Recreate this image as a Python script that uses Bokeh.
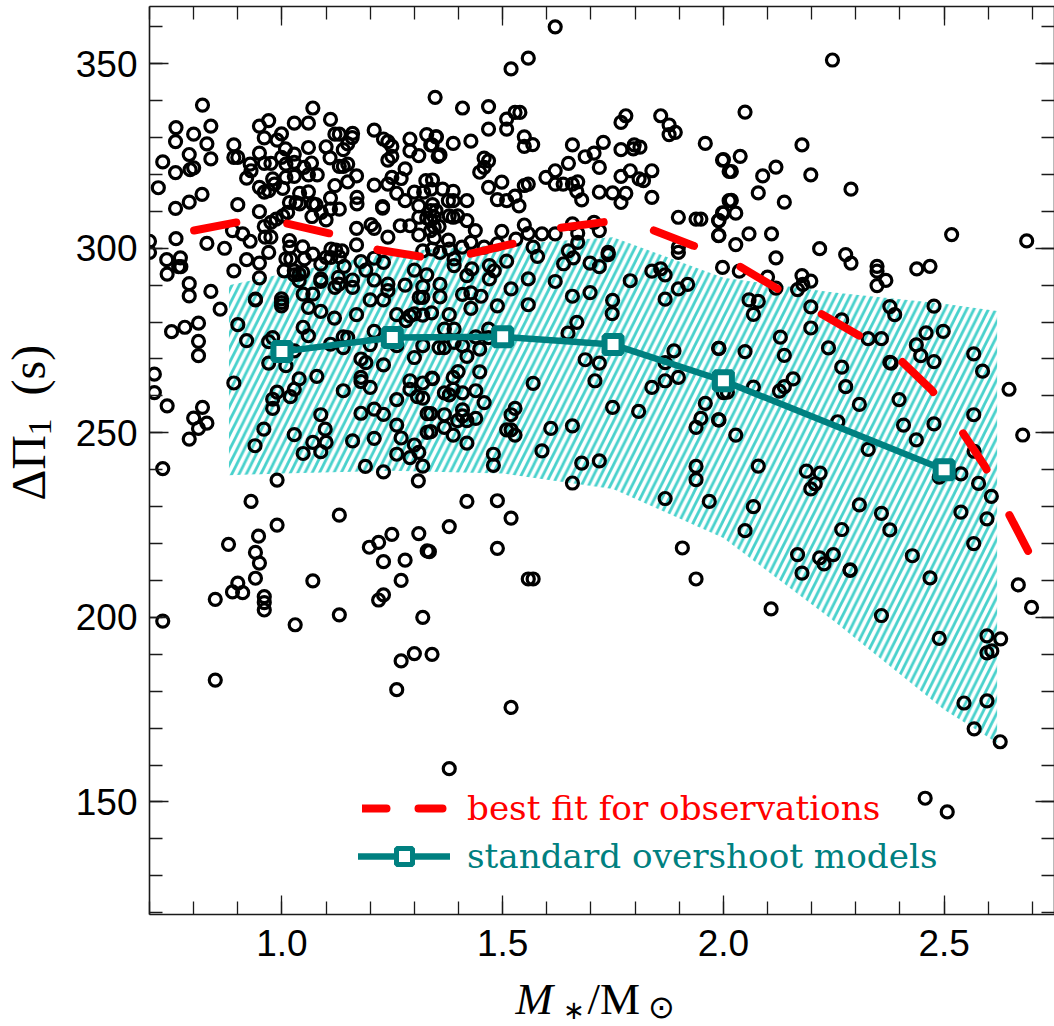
import math
from bokeh.plotting import figure
from bokeh.embed import file_html
from bokeh.resources import INLINE
from bokeh.models import (FixedTicker, Label, Legend, LegendItem, LinearAxis, Range1d,
                          CustomJSTickFormatter, NumeralTickFormatter)

star_points = [
(.82,338.8),(.839,333.1),(.76,332.7),(.80,330.9),(.759,328.9),(.83,328.3),(.79,325.4),(.839,324.2),(.73,323.4),(.759,320.5),
(.792,321.3),(.80,321.8),(.72,316.4),(.819,314.6),(.79,312.5),(.759,310.8),(.90,311.8),(.891,328),(.891,324.6),(.90,324.6),
(.949,309.9),(.76,302.6),(.83,301.3),(.87,300),(.888,304.8),(.911,303.9),(.928,301.9),(.70,301.9),(.70,298.9),(.739,296.9),
(.77,297.4),(.766,295),(.771,295),(.74,293),(.79,290.4),(.79,287.1),(.839,288.3),(.891,293.9),(.92,296.9),(.949,296),
(.97,298.9),(.949,292),(.94,286.2),(.949,333.1),(.97,334.6),(.96,329.9),(.999,331),(.989,329.3),(1.028,333.9),(1.06,333.9),
(1.07,338),(1.11,334.9),(1.12,330.9),(1.13,330.9),(1.16,331.1),(1.159,330),(1.149,328.3),(1.139,326.7),(1.008,326.9),(1.028,325.5),
(1.06,327.3),(1.10,327.5),(1.109,324.5),(.949,325.8),(.928,322.8),(.93,321),(.92,319),(.96,323),(.975,323),(.999,324.6),
(1.009,322.8),(1.028,323.3),(1.05,321.9),(1.067,323.1),(1.06,319.9),(1.08,319.9),(1.13,322.2),(1.139,322.2),(1.149,322.8),(1.169,319.6),
(1.009,319.2),(1.028,319.5),(.979,318.8),(.983,317.4),(.949,316.5),(.96,315.2),(.97,315.6),(1.002,316.2),(1.12,317),(1.149,318),
(1.04,314.9),(1.06,315.3),(1.11,313.6),(1.017,312.4),(1.032,312.4),(1.04,312),(1.07,312),(1.077,311.8),(1.11,310.6),(1.13,310.6),
(1.17,313.8),(1.17,312),(1.013,309.7),(1.002,308.8),(.987,307.9),(.975,307),(1.068,308.6),(1.10,307.7),(1.089,309.7),(1.169,305.4),
(1.169,300.9),(1.202,306.4),(1.209,305.4),(1.24,303),(1.268,306.1),(1.29,306.1),(1.31,303.6),(1.319,299.3),(1.341,299.8),(1.209,297.3),
(1.23,296.2),(1.179,296.4),(1.19,294.1),(1.141,295.1),(1.088,295.7),(1.088,291.7),(1.128,292.1),(1.12,289.4),(1.16,291.4),(1.16,289.4),
(1.209,291.4),(1.24,290.3),(1.24,288.5),(1.279,290),(1.319,289.6),(1.30,294.1),(1.328,292.8),(1.228,311.3),(1.228,310.9),(1.209,317.1),
(1.24,317.4),(1.249,319.2),(1.27,318.9),(1.26,314.9),(1.279,312.9),(1.24,323.9),(1.249,324.9),(1.279,321.5),(1.31,325.1),(1.29,326.4),
(1.29,329.6),(1.209,332),(1.23,329.6),(1.24,328.9),(1.249,327.6),(1.328,330.8),(1.349,330.2),(1.34,328),(1.354,324.9),(1.347,340.9),
(1.30,315.2),(1.321,315.2),(1.326,318.3),(1.341,318.5),(1.338,316),(1.31,311.5),(1.341,311.8),(1.31,308.4),(1.328,308.2),(1.345,308.4),
(1.345,302.8),(1.017,302.1),(1.018,300.3),(1.009,297.1),(1.02,297.1),(1.005,293.9),(1.028,293.9),(1.028,292.8),(1.039,293),(1.047,293.5),
(1.051,297.1),(1.07,298.4),(1.047,300.4),(1.111,299.8),(1.122,299.5),(1.136,299.3),(1.1,297.5),(1.111,297.5),(1.13,297.7),(.96,305.9),
(.975,303),(.962,303),(1.039,291.2),(.999,286.3),
(1.619,360),(1.558,351.5),(1.519,348.6),(1.409,338),(1.468,338.4),(1.509,335),(1.528,336.8),(1.539,336.8),(1.468,332.3),(1.509,332.3),
(1.549,330.2),(1.549,327.6),(1.568,328.1),(1.35,330.2),(1.337,328),(1.388,328.4),(1.428,329),(1.358,325.3),(1.458,324.4),(1.468,323.7),
(1.458,321.9),(1.448,320.6),(1.658,328),(1.728,328.7),(1.707,325.8),(1.687,324.8),(1.768,326.7),(1.798,328),(1.811,327.4),(1.796,326.9),
(1.649,323),(1.719,321.9),(1.598,319.2),(1.619,321),(1.619,317.4),(1.637,317.4),(1.658,317.4),(1.67,318),(1.668,315.4),(1.679,313.1),
(1.719,315.2),(1.749,315),(1.779,314.9),(1.768,312.4),(1.768,319.5),(1.789,321),(1.809,318.8),(1.819,318.3),(1.838,321),(1.838,313.8),
(1.768,334.1),(1.779,335.9),(1.858,335.9),(1.877,333.4),(1.877,330.8),(1.891,331.4),(1.959,328.4),(1.998,323.9),(2.013,320.8),(1.498,317.9),
(1.468,316.5),(1.488,313.2),(1.509,312.9),(1.528,314.1),(1.537,311.5),(1.549,317),(1.558,317.4),(1.364,316),(1.388,315.4),(1.377,312.9),
(1.388,312.9),(1.419,312.9),(1.337,310.2),(1.349,310.2),(1.379,308.8),(1.398,308.8),(1.388,308.4),(1.419,307.5),(1.438,304.8),(1.337,307.5),
(1.356,305.9),(1.345,305.7),(1.337,304.8),(1.377,302.2),(1.498,304.6),(1.549,306.3),(1.558,304),(1.589,303.9),(1.619,303.9),(1.53,302.5),
(1.658,306.6),(1.707,307),(1.719,304.8),(1.67,304.1),(1.67,301.6),(1.428,301.6),(1.458,300.3),(1.488,301.2),(1.408,300.3),(1.379,299.8),
(1.358,298.9),(1.39,297.1),(1.39,295.3),(1.43,294.4),(1.47,295.3),(1.481,293.9),(1.47,291.7),(1.419,292.6),(1.509,296.5),(1.569,300.3),
(1.579,297.8),(1.649,299.3),(1.66,297.4),(1.638,295.8),(1.698,296),(1.719,295),(1.739,298.9),(1.739,298.3),(1.558,291.7),(1.519,289),
(1.619,291),(1.658,287),(1.698,288),(1.789,291.2),(1.358,290.2),(1.358,286.8),(1.409,287.5),(1.428,287.9),(1.451,287),(1.868,286.2),
(1.898,289),(1.919,290.2),(1.838,293.8),(1.858,294.4),(1.868,292.8),(1.898,300.3),(1.898,298.9),(1.898,308.4),(1.938,307.9),(1.949,307.9),
(1.989,307.5),(1.998,309.6),(1.989,303.4),(2.013,312.9),(1.998,294.8),(1.749,285.9),
(2.247,351),(2.049,336.9),(2.178,328),(2.0,324),(2.038,324.9),(2.018,320.8),(2.089,319.6),(2.119,322),(2.198,319.9),(2.289,316),
(2.079,315),(2.138,312.5),(2.018,313),(2.028,309.5),(2.0,309.5),(1.99,307.5),(1.99,303.5),(2.058,303.9),(2.109,303.9),(2.028,301),
(2.517,303.7),(2.687,302),(2.119,297.4),(2.218,299.9),(2.036,293.8),(2.277,298.3),(2.289,296),(2.348,295.1),(2.348,293.8),(2.368,291.3),
(2.348,289.9),(2.438,294.4),(2.468,295.1),(2.100,292.2),(2.119,289.2),(2.168,288.8),(2.178,292.6),(2.18,290.2),(2.198,291.1),(2.058,286),
(2.079,285.6),(2.068,282.1),(2.198,284.1),(2.198,278.4),(2.268,280.6),(2.129,275.9),(2.238,273),(2.328,275.5),(2.358,275.5),(2.377,284.2),
(2.388,282),(2.477,284.3),(2.498,277.5),(2.459,277.1),(2.437,273.8),(2.447,270.9),(2.477,269.3),(2.567,271.4),(1.99,272.9),(2.049,272),
(2.138,271),(2.377,269.1),(2.38,268.9),(2.268,267.8),(2.587,266.7),(2.647,261.8),(2.158,264.6),(2.138,262.5),(2.127,261.3),(2.068,262.4),
(2.009,261),(2.277,262.5),(2.308,257.7),(2.398,259),(2.567,254.9),(1.99,253.5),(2.028,249.4),(2.259,253),(2.408,252.1),(2.477,252.4),
(2.437,248.1),(2.678,249.4),(2.328,245.5),(2.568,245),(2.079,241),(2.188,239.6),(2.219,239.1),(2.208,236.2),(2.198,234.8),(2.489,238),
(2.538,238.9),(2.578,236.3),(2.607,232.8),(2.068,230),(2.308,230.5),(2.358,228.2),(2.538,228.5),(2.597,226.7),(2.567,220),(2.049,223.5),
(2.268,223.8),(2.377,223.7),(2.168,217),(2.218,216.1),(2.249,217),(2.228,214.5),(2.178,212),(2.287,212.9),(2.287,212.7),(2.428,216.7),
(2.468,210.7),(2.668,208.8),(2.698,202.7),(2.108,202.3),(2.358,200.5),(2.489,194.3),(2.597,195),(2.628,194.2),(2.545,176.8),(2.597,177.4),
(2.568,169.8),(2.627,166.3),(2.597,190.4),(2.608,190.9),(2.457,151),(2.507,147.3),
(1.339,282.5),(1.748,282.3),(1.428,283.7),(1.488,284.4),(1.558,284.7),(1.379,282),(1.368,278.1),(1.39,278.1),(1.468,278.1),(1.439,276),
(1.468,275.8),(1.39,274.5),(1.368,273.1),(1.409,273.6),(1.448,272.7),(1.419,270.7),(1.668,279.9),(1.648,277),(1.888,272.2),(1.989,272.9),
(1.868,269),(1.868,264.1),(1.898,265),(1.838,262.3),(1.687,269.8),(1.719,268.9),(1.709,264.1),(2.0,260.9),(1.959,258),(1.949,253.9),
(1.938,251.5),(1.989,253.5),(1.399,266.6),(1.388,265),(1.448,266.5),(1.341,264.7),(1.368,260.8),(1.379,260.3),(1.388,261.8),(1.409,260.8),
(1.439,261.4),(1.458,258.2),(1.569,263.4),(1.337,255.2),(1.368,254.9),(1.409,256.2),(1.409,254.6),(1.398,253.3),(1.419,253.3),(1.439,253.9),
(1.368,251.5),(1.388,249.4),(1.337,250.3),(1.419,247.2),(1.528,256.6),(1.519,254.9),(1.509,250.8),(1.519,250.8),(1.528,249.4),(1.609,251.2),
(1.658,251.9),(1.749,256.9),(1.808,255.8),(1.479,244.2),(1.479,241.2),(1.589,245.1),(1.679,241.8),(1.719,242.4),(1.658,236.4),(1.938,240.9),
(1.938,237.3),(1.868,232.2),(1.968,231.4),(1.419,231.4),(1.488,231.6),(1.519,226.9),(1.379,224.6),(1.488,218.7),(1.334,217.8),(1.907,218.8),
(1.558,210.4),(1.569,210.4),(1.938,210.4),
(.86,283.5),(.94,286),(.999,285.3),(.999,284.4),(1.048,287.6),(1.07,287.6),(1.06,284),(1.088,282.9),(1.119,281.1),(1.169,282),
(1.2,286),(1.23,286),(1.26,282),(1.281,280.4),(1.29,281.7),(1.3,282.2),(1.319,281.9),(1.129,290.3),(1.088,291),(1.319,286.7),
(1.311,286.7),(.811,279.7),(.78,278.6),(.75,277.4),(.811,274.8),(.811,270.9),(.9,279.3),(.92,275),(.891,263.5),(.97,274.7),
(.979,275.8),(.97,268.9),(1.009,268.2),(1.028,272.2),(1.048,278.6),(1.06,276.3),(1.11,274),(1.139,276),(1.149,275.8),(1.139,273.1),
(1.2,273.9),(1.209,277.5),(1.26,273.6),(1.3,270.4),(1.319,273.6),(1.356,273.1),(1.179,270),(1.19,269),(1.23,268.4),(1.039,264.6),
(1.079,265.3),(1.179,265),(1.179,263.9),(1.2,262.3),(1.028,261.8),(1.019,259.8),(.989,261),(.979,259.1),(.979,256.6),(1.139,261.4),
(1.29,264.1),(1.29,261.8),(1.319,263.5),(1.34,264.8),(1.307,259.8),(1.319,259.4),(1.26,259),(1.179,255.3),(1.209,256.4),(1.23,255),
(1.329,255.2),(1.26,252.1),(1.27,248.6),(1.329,250.1),(1.088,254.9),(1.098,251),(1.028,249.5),(.959,251),(.939,246.5),(1.07,247.4),
(1.1,247.4),(1.048,244.4),(1.088,244.9),(1.16,247.8),(1.209,248.5),(1.3,246.7),(1.31,244.7),(1.26,244.2),(1.29,243.3),(1.319,241),
(1.189,240.9),(1.23,239.4),(1.309,237),(.989,237.2),(.82,256.9),(.8,254),(.83,252.6),(.811,251.2),(.79,248.3),(.73,240.3),
(.74,257.3),(.711,265.9),(.711,260.9),(.93,231.4),(1.13,227.7),(.989,225),(.947,222),(.879,219.8),(.94,217.6),(.949,214.7),
(1.198,219),(1.219,220.3),(1.249,222.5),(1.31,222.7),(1.329,218),(1.23,215.1),(1.279,215.5),(.9,209.3),(.888,206.9),(.911,206.7),
(.94,210.6),(.849,204.9),(.96,205.6),(.96,204),(.96,202),(1.03,198),(1.13,200.7),(.73,199),(1.07,209.9),(1.27,210),
(1.23,206.1),(1.219,204.7),(1.319,200),(1.3,190.2),(1.34,190),(1.27,188.2),(1.26,180.4),(1.519,175.6),(1.379,159),(.849,183),
]
star_mass = [s[0] for s in star_points]
star_period = [s[1] for s in star_points]

fit_mass = [.801,.901,1.012,1.109,1.217,1.316,1.427,1.526,1.630,1.730,1.839,1.932,2.034,2.120,2.215,2.305,2.400,2.473,2.539,2.593,2.644,2.690]
fit_period = [304.8,307.1,306.7,304,299.6,297.7,298.5,301.3,305.5,307.1,305,300.7,295.3,289.2,282.7,276.5,269.8,261.4,250.6,240.8,228.6,218]

model_mass = [1.0,1.25,1.5,1.75,2.0,2.5]
model_period = [272,275.8,276,273.9,264.1,240]

band_mass = [.88,1.0,1.25,1.5,1.75,2.0,2.25,2.5,2.62]
band_upper = [290,293,299,301,303,292,288,285,283]
band_lower = [238.5,239,239.7,239,234.8,221.5,199,175,166]

major_x = [1.0,1.5,2.0,2.5]
minor_x = [.7,.8,.9,1.0,1.1,1.2,1.3,1.4,1.5,1.6,1.7,1.8,1.9,2.0,2.1,2.2,2.3,2.4,2.5,2.6,2.7]
major_y = [150,200,250,300,350]
minor_y = [120,130,140,150,160,170,180,190,200,210,220,230,240,250,260,270,280,290,300,310,320,330,340,350,360]

SANS = "Liberation Sans"
SERIF = "Liberation Serif"
LEGEND_FONT = "DejaVu Serif"
INK = "#1a1a1a"
TEAL = "#008080"
RED = "#ff0000"
FRAME_LEFT, FRAME_BOTTOM, FRAME_W, FRAME_H = 149, 914, 905, 908
X0, X1, Y0, Y1 = 0.7, 2.75, 119.5, 365.5

p = figure(width=1054, height=1026, frame_width=FRAME_W, frame_height=FRAME_H,
           output_backend="svg", toolbar_location=None,
           x_range=Range1d(X0, X1), y_range=Range1d(Y0, Y1),
           min_border_left=FRAME_LEFT, min_border_right=0, min_border_top=6, min_border_bottom=112,
           styles={"position": "absolute", "left": "0px", "top": "0px"})
p.grid.visible = False
p.outline_line_color = None
p.background_fill_color = "white"

xt = FixedTicker(ticks=major_x, minor_ticks=minor_x)
yt = FixedTicker(ticks=major_y, minor_ticks=minor_y)
blank = CustomJSTickFormatter(code="return ''")
p.add_layout(LinearAxis(ticker=xt, formatter=blank), "above")
p.add_layout(LinearAxis(ticker=yt, formatter=blank), "right")

for ax in p.xaxis + p.yaxis:
    ax.axis_line_color = INK
    ax.axis_line_width = 1.6
    ax.major_tick_line_color = INK
    ax.minor_tick_line_color = INK
    ax.major_tick_line_width = 1.3
    ax.minor_tick_line_width = 1.3
    ax.major_tick_in = 19
    ax.major_tick_out = 0
    ax.minor_tick_in = 13
    ax.minor_tick_out = 0
    ax.major_label_text_font = SANS
    ax.major_label_text_font_size = "37px"
    ax.major_label_text_color = "black"
    ax.major_label_standoff = 12
p.below[0].ticker = xt
p.below[0].formatter = NumeralTickFormatter(format="0.0")
p.below[0].major_label_standoff = 15
p.left[0].ticker = yt
p.above[0].major_label_standoff = 0
p.right[0].major_label_standoff = 0
p.above[0].major_label_text_font_size = "0px"
p.right[0].major_label_text_font_size = "0px"

p.varea(band_mass, band_lower, band_upper, fill_alpha=0,
        hatch_pattern="right_diagonal_line", hatch_color="#48d1cc",
        hatch_weight=2.8, hatch_scale=14.5)

p.scatter(star_mass, star_period, marker="circle", size=12, fill_color=None,
          line_color="black", line_width=3.2)

p.line(fit_mass, fit_period, line_color=RED, line_width=8, line_dash="43 51",
       line_cap="round", line_join="round")

p.line(model_mass, model_period, line_color=TEAL, line_width=6.5)
p.scatter(model_mass, model_period, marker="square", size=17, fill_color="white",
          line_color=TEAL, line_width=6)

nan = float("nan")
key_red = p.line([nan, nan], [nan, nan], line_color=RED, line_width=8, line_dash="24 32", line_cap="round")
key_teal = p.line([nan, nan], [nan, nan], line_color=TEAL, line_width=6.5, line_cap="round")
key_mark = p.scatter([nan], [nan], marker="square", size=16, fill_color="white", line_color=TEAL, line_width=5)

def make_legend(label, renderers, color, loc, gw, gh, standoff):
    return Legend(items=[LegendItem(label=label, renderers=renderers, index=0)], location=loc, orientation="vertical",
                  background_fill_alpha=0, border_line_color=None, margin=0, padding=0,
                  glyph_width=gw, glyph_height=gh, label_standoff=standoff, label_height=gh,
                  label_text_font=LEGEND_FONT, label_text_font_size="34.2px", label_text_color=color,
                  label_text_baseline="middle")

p.add_layout(make_legend("best fit for observations", [key_red], RED, (213, 86), 86, 40, 19), "center")
p.add_layout(make_legend("standard overshoot models", [key_teal, key_mark], TEAL, (209, 38), 92, 40, 17), "center")

def piece(text, px, py, size, angle=0, style="normal", font=SERIF):
    # side-panel labels stay unclipped; anchored through the plot's own scales
    p.add_layout(Label(x=X0 + (px - FRAME_LEFT) * (X1 - X0) / FRAME_W,
                       y=Y0 + (FRAME_BOTTOM - py) * (Y1 - Y0) / FRAME_H,
                       text=text, angle=angle, angle_units="rad", text_font=font, text_font_style=style,
                       text_font_size=f"{size}px", text_color="black", text_baseline="alphabetic",
                       text_align="left"), "below")

up = math.pi / 2
piece("ΔΠ", 28, 500, 48, up)
piece("1", 39, 435, 34, up)
piece("(s)", 28, 395, 48, up)
piece("M", 515, 998, 45, style="italic")
piece("∗", 562, 1010, 26)
piece("/M", 587, 998, 45)
piece("⊙", 647, 1006, 32)

open("out.html", "w").write(file_html(p, INLINE))
